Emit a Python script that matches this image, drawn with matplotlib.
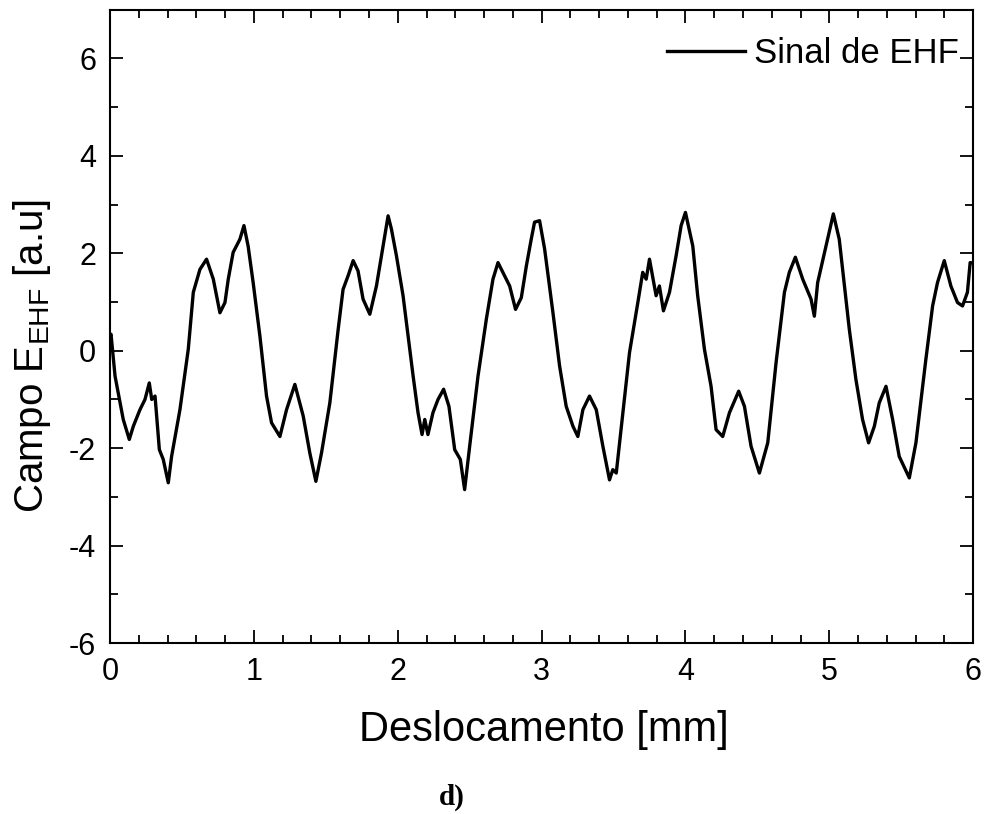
import matplotlib
matplotlib.use("Agg")
import matplotlib.pyplot as plt
from matplotlib.ticker import MultipleLocator

plt.rcParams['font.family'] = ['Liberation Sans', 'DejaVu Sans']
plt.rcParams['mathtext.default'] = 'regular'
plt.rcParams['axes.unicode_minus'] = False

# signal (displacement in mm, field in a.u.)
desloc = [0.0, 0.007, 0.035, 0.092, 0.134, 0.162, 0.208, 0.243, 0.273, 0.29, 0.313,
          0.343, 0.37, 0.405, 0.428, 0.486, 0.544, 0.579, 0.625, 0.671, 0.718, 0.764,
          0.799, 0.822, 0.856, 0.903, 0.931, 0.96, 0.995, 1.042, 1.088, 1.123, 1.181,
          1.227, 1.285, 1.343, 1.389, 1.431, 1.47, 1.528, 1.586, 1.62, 1.655, 1.69,
          1.724, 1.759, 1.806, 1.852, 1.887, 1.933, 1.956, 1.991, 2.037, 2.072, 2.107,
          2.141, 2.169, 2.188, 2.21, 2.245, 2.28, 2.319, 2.356, 2.396, 2.435, 2.465,
          2.5, 2.558, 2.616, 2.662, 2.697, 2.731, 2.778, 2.819, 2.859, 2.894, 2.928,
          2.951, 2.986, 3.021, 3.079, 3.125, 3.171, 3.218, 3.252, 3.287, 3.333, 3.38,
          3.426, 3.472, 3.495, 3.519, 3.565, 3.611, 3.669, 3.703, 3.727, 3.75, 3.796,
          3.819, 3.847, 3.889, 3.935, 3.97, 4.0, 4.051, 4.085, 4.132, 4.178, 4.213,
          4.259, 4.306, 4.37, 4.41, 4.456, 4.514, 4.572, 4.63, 4.688, 4.722, 4.764,
          4.815, 4.873, 4.896, 4.919, 4.977, 5.028, 5.069, 5.139, 5.185, 5.231, 5.273,
          5.313, 5.347, 5.394, 5.44, 5.486, 5.556, 5.602, 5.671, 5.718, 5.752, 5.799,
          5.845, 5.891, 5.926, 5.96, 5.979, 6.0]
campo = [0.3, 0.34, -0.52, -1.41, -1.82, -1.55, -1.21, -1.0, -0.66, -1.0, -0.93,
         -2.03, -2.23, -2.71, -2.17, -1.21, 0.03, 1.2, 1.67, 1.88, 1.47, 0.78,
         0.99, 1.47, 2.02, 2.29, 2.57, 2.15, 1.4, 0.3, -0.93, -1.48, -1.76,
         -1.21, -0.69, -1.34, -2.1, -2.68, -2.1, -1.07, 0.44, 1.26, 1.54, 1.85,
         1.64, 1.06, 0.75, 1.33, 1.95, 2.77, 2.5, 1.95, 1.13, 0.3, -0.52,
         -1.27, -1.72, -1.41, -1.72, -1.27, -1.0, -0.79, -1.14, -2.03, -2.23, -2.85,
         -1.96, -0.52, 0.65, 1.47, 1.81, 1.61, 1.33, 0.85, 1.09, 1.74, 2.29,
         2.64, 2.67, 2.09, 0.78, -0.31, -1.14, -1.55, -1.76, -1.21, -0.93, -1.21,
         -1.96, -2.65, -2.44, -2.51, -1.27, -0.04, 0.99, 1.61, 1.47, 1.88, 1.13,
         1.33, 0.82, 1.2, 1.95, 2.57, 2.84, 2.15, 1.13, 0.03, -0.73, -1.62,
         -1.76, -1.27, -0.83, -1.14, -1.96, -2.51, -1.89, -0.24, 1.2, 1.61, 1.92,
         1.47, 1.06, 0.71, 1.4, 2.15, 2.81, 2.29, 0.44, -0.59, -1.41, -1.89,
         -1.55, -1.07, -0.73, -1.41, -2.17, -2.61, -1.89, -0.18, 0.92, 1.4, 1.85,
         1.33, 0.99, 0.92, 1.2, 1.81, 1.8]

fig = plt.figure(figsize=(9.84, 8.14), dpi=100)
ax = fig.add_axes([0.1118, 0.21, 0.8772, 0.778])

ax.plot(desloc, campo, color='black', lw=2.4, label='Sinal de EHF')

ax.set_xlim(0, 6)
ax.set_ylim(-6, 7)
ax.xaxis.set_major_locator(MultipleLocator(1))
ax.xaxis.set_minor_locator(MultipleLocator(0.2))
ax.yaxis.set_major_locator(MultipleLocator(2))
ax.yaxis.set_minor_locator(MultipleLocator(1))
ax.tick_params(which='both', direction='in', top=True, right=True, width=1.3, labelsize=22)
ax.tick_params(which='major', length=9.5, pad=10)
ax.tick_params(which='minor', length=5.5)
for s in ax.spines.values():
    s.set_linewidth(1.5)

ax.set_xlabel('Deslocamento [mm]', fontsize=30)
ax.xaxis.set_label_coords(0.503, -0.106)
ax.set_ylabel('Campo E$_{EHF}$ [a.u]', fontsize=29)
ax.yaxis.set_label_coords(-0.0665, 0.454)

ax.legend(loc='upper right', bbox_to_anchor=(1.0, 0.979), frameon=False, fontsize=25,
          handlelength=2.25, handletextpad=0.26, borderaxespad=0.0, borderpad=0.4)

fig.text(0.459, 0.011, 'd)', fontsize=21, fontweight='bold',
         family='Liberation Serif', ha='center', va='baseline')

fig.savefig('out.png', dpi=100)
